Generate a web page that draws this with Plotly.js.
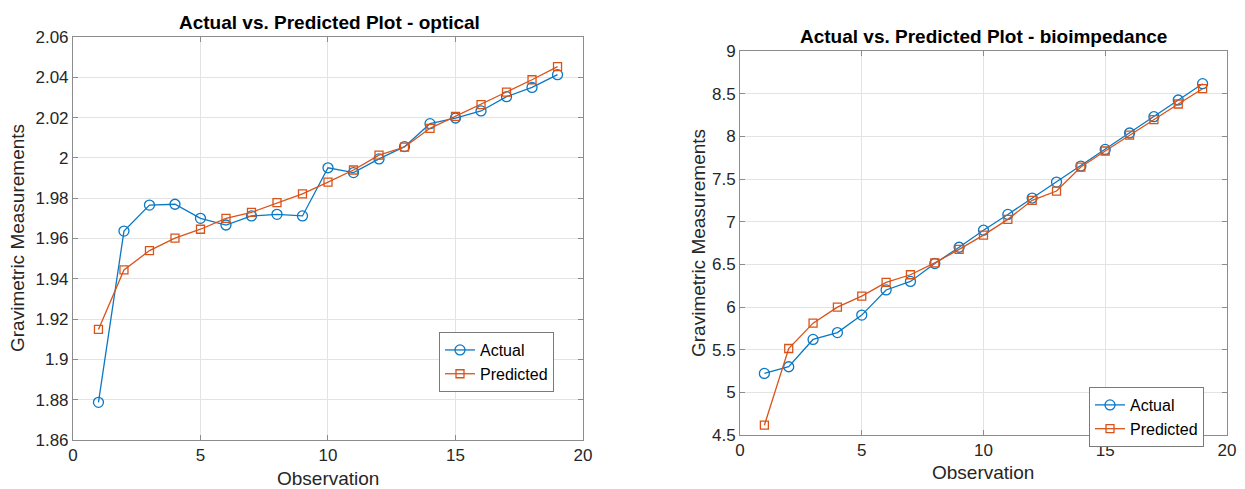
<!DOCTYPE html>
<html><head><meta charset="utf-8">
<script src="https://cdn.plot.ly/plotly-3.0.1.min.js"></script>
<style>html,body{margin:0;padding:0;background:#fff}#chart{width:1245px;height:489px}</style>
</head><body><div id="chart"></div>
<script>
const observations = [1,2,3,4,5,6,7,8,9,10,11,12,13,14,15,16,17,18,19];
const opticalActual = [1.8787,1.9637,1.9766,1.9770,1.9700,1.9667,1.9712,1.9720,1.9712,1.9951,1.9927,1.9995,2.0056,2.0170,2.0198,2.0233,2.0304,2.0350,2.0413];
const opticalPredicted = [1.9149,1.9444,1.9540,1.9602,1.9646,1.9700,1.9730,1.9778,1.9822,1.9880,1.9940,2.0014,2.0054,2.0147,2.0206,2.0264,2.0327,2.0388,2.0453];
const bioActual = [5.222,5.300,5.620,5.700,5.905,6.200,6.300,6.510,6.700,6.900,7.085,7.277,7.464,7.652,7.847,8.039,8.230,8.426,8.617];
const bioPredicted = [4.615,5.514,5.811,5.999,6.128,6.288,6.378,6.518,6.675,6.843,7.027,7.250,7.359,7.640,7.828,8.015,8.195,8.379,8.558];
const seriesNames = ["Actual","Predicted"];
const titles = ["Actual vs. Predicted Plot - optical","Actual vs. Predicted Plot - bioimpedance"];
const xLabel = "Observation";
const yLabel = "Gravimetric Measurements";

const blue = '#0a78c4', orange = '#D95319';
const F = 'Liberation Sans, Arial, Helvetica, sans-serif';
function tr(x, y, name, color, sym, xa, ya, lg, size){
  return {x:x, y:y, name:name, type:'scatter', mode:'lines+markers', xaxis:xa, yaxis:ya, legend:lg,
    line:{color:color, width:1.3},
    marker:{symbol:sym, size:size, color:color, line:{color:color, width:1.3}}};
}
const data = [
  tr(observations, opticalActual, seriesNames[0], blue, 'circle-open', 'x', 'y', 'legend', 10),
  tr(observations, opticalPredicted, seriesNames[1], orange, 'square-open', 'x', 'y', 'legend', 8),
  tr(observations, bioActual, seriesNames[0], blue, 'circle-open', 'x2', 'y2', 'legend2', 10),
  tr(observations, bioPredicted, seriesNames[1], orange, 'square-open', 'x2', 'y2', 'legend2', 8)
];
const ax = {
  showgrid:true, gridcolor:'#e3e3e3', gridwidth:1, zeroline:false,
  showline:true, linecolor:'#8c8c8c', linewidth:1, mirror:'ticks',
  ticks:'inside', ticklen:5, tickcolor:'#8c8c8c',
  tickfont:{family:F, size:17, color:'#262626'}
};
const legendStyle = {bgcolor:'#fff', bordercolor:'#7a7a7a', borderwidth:1,
  font:{family:F, size:16, color:'#000'}, xanchor:'left', yanchor:'top',
  tracegroupgap:0, itemwidth:30};
const layout = {
  width:1245, height:489, margin:{l:0,r:0,t:0,b:0},
  paper_bgcolor:'#fff', plot_bgcolor:'#fff', showlegend:true,
  xaxis:Object.assign({}, ax, {domain:[0.0586,0.4683], range:[0,20], tickvals:[0,5,10,15,20], anchor:'y'}),
  yaxis:Object.assign({}, ax, {domain:[0.1002,0.9243], range:[1.86,2.06], tickvals:[1.86,1.88,1.9,1.92,1.94,1.96,1.98,2,2.02,2.04,2.06], ticktext:['1.86','1.88','1.9','1.92','1.94','1.96','1.98','2','2.02','2.04','2.06'], anchor:'x'}),
  xaxis2:Object.assign({}, ax, {domain:[0.5944,0.9855], range:[0,20], tickvals:[0,5,10,15,20], anchor:'y2'}),
  yaxis2:Object.assign({}, ax, {domain:[0.1104,0.8957], range:[4.5,9], tickvals:[4.5,5,5.5,6,6.5,7,7.5,8,8.5,9], ticktext:['4.5','5','5.5','6','6.5','7','7.5','8','8.5','9'], anchor:'x2'}),
  legend:Object.assign({}, legendStyle, {x:0.3526, y:0.321}),
  legend2:Object.assign({}, legendStyle, {x:0.8747, y:0.2086}),
  annotations:[
    {text:'<b>'+titles[0]+'</b>', xref:'paper', yref:'paper', x:329/1245, y:1-22/489, showarrow:false, xanchor:'center', yanchor:'middle', font:{family:F, size:19, color:'#000'}},
    {text:'<b>'+titles[1]+'</b>', xref:'paper', yref:'paper', x:983/1245, y:1-37/489, showarrow:false, xanchor:'center', yanchor:'middle', font:{family:F, size:19, color:'#000'}},
    {text:xLabel, xref:'paper', yref:'paper', x:328/1245, y:1-478/489, showarrow:false, xanchor:'center', yanchor:'middle', font:{family:F, size:19, color:'#262626'}},
    {text:xLabel, xref:'paper', yref:'paper', x:983/1245, y:1-472/489, showarrow:false, xanchor:'center', yanchor:'middle', font:{family:F, size:19, color:'#262626'}},
    {text:yLabel, xref:'paper', yref:'paper', x:18/1245, y:1-238/489, showarrow:false, textangle:-90, xanchor:'center', yanchor:'middle', font:{family:F, size:19, color:'#262626'}},
    {text:yLabel, xref:'paper', yref:'paper', x:698/1245, y:1-243/489, showarrow:false, textangle:-90, xanchor:'center', yanchor:'middle', font:{family:F, size:19, color:'#262626'}}
  ]
};
Plotly.newPlot('chart', data, layout, {displayModeBar:false, staticPlot:true});
</script></body></html>
